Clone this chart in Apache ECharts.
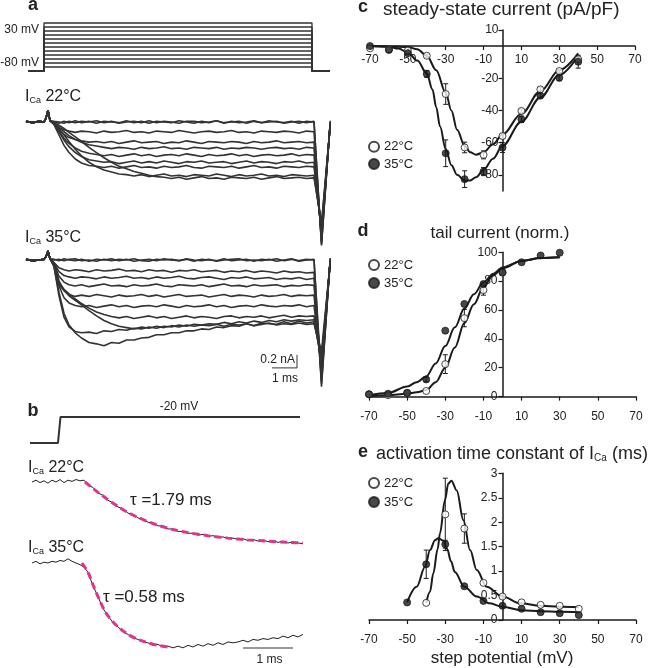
<!DOCTYPE html>
<html><head><meta charset="utf-8">
<script src="https://cdn.jsdelivr.net/npm/echarts@6/dist/echarts.min.js"></script>
<style>html,body{margin:0;padding:0;background:#fff}#chart{width:656px;height:668px}</style>
</head><body><div id="chart"></div>
<script>
// ---------------- Panel a: voltage protocol (mV, ms) ----------------
const stepLevels = [-80,-70,-60,-50,-40,-30,-20,-10,0,10,20,30];
const holdingPotential = -90;
const stepTimes = [-0.64, 0, 10.72, 11.44];

// ---------------- Panel a: current traces (nA vs ms) ----------------
const tA = [-0.72,-0.45,-0.2,0,0.08,0.16,0.24,0.4,0.6,0.8,1.0,1.25,1.5,1.8,2.1,2.4,2.7,3.0,3.3,3.6,3.9,4.2,4.5,4.8,5.1,5.4,5.7,6.0,6.3,6.6,6.9,7.2,7.5,7.8,8.1,8.4,8.7,9.0,9.3,9.6,9.9,10.2,10.5,10.8,11.1,11.45];
const pre22 = [0.01,-0.01,0.01,0.0,0.06,0.18,0.02];
const a22Base1 = [0.0,-0.02,0.01,-0.01,0.02,-0.01,0.01,-0.02,0.01,0.0,-0.01,0.02,-0.01,0.01,-0.02,0.01,0.0,-0.01,0.02,0.0,-0.02,0.01,-0.01,0.02,-0.01,0.0,0.01,-0.02,0.01,-0.01,0.02,0.0,-0.01,0.01,-0.02,0.01,0.0,-1.9,0.0];
const a22Base2 = [0.01,0.0,-0.02,0.01,-0.01,0.01,0.0,0.02,-0.01,0.01,-0.02,0.0,0.01,-0.01,0.02,-0.01,0.01,0.0,-0.02,0.01,0.01,-0.01,0.0,0.02,-0.02,0.01,-0.01,0.0,0.02,-0.01,0.0,0.01,-0.02,0.0,0.01,-0.01,0.01,-1.88,0.02];
const a22L1 = [-0.03,-0.09,-0.12,-0.14,-0.16,-0.14,-0.15,-0.17,-0.14,-0.16,-0.15,-0.13,-0.16,-0.15,-0.17,-0.14,-0.15,-0.16,-0.13,-0.15,-0.17,-0.15,-0.14,-0.16,-0.15,-0.13,-0.16,-0.15,-0.17,-0.14,-0.15,-0.16,-0.14,-0.15,-0.17,-0.14,-0.15,-1.85,-0.01];
const a22L2 = [-0.03,-0.12,-0.19,-0.24,-0.27,-0.29,-0.31,-0.30,-0.32,-0.30,-0.33,-0.31,-0.29,-0.32,-0.31,-0.30,-0.33,-0.31,-0.32,-0.29,-0.31,-0.33,-0.30,-0.31,-0.32,-0.30,-0.31,-0.33,-0.30,-0.32,-0.31,-0.29,-0.32,-0.31,-0.30,-0.32,-0.31,-1.8,-0.02];
const a22L3 = [-0.02,-0.08,-0.15,-0.21,-0.27,-0.31,-0.35,-0.37,-0.39,-0.41,-0.39,-0.40,-0.42,-0.39,-0.41,-0.40,-0.38,-0.41,-0.40,-0.42,-0.39,-0.40,-0.41,-0.39,-0.42,-0.40,-0.41,-0.39,-0.40,-0.42,-0.40,-0.39,-0.41,-0.40,-0.42,-0.39,-0.40,-1.75,-0.02];
const a22L4 = [-0.03,-0.14,-0.25,-0.33,-0.40,-0.45,-0.48,-0.50,-0.52,-0.50,-0.53,-0.51,-0.49,-0.52,-0.50,-0.53,-0.51,-0.50,-0.52,-0.49,-0.51,-0.53,-0.50,-0.52,-0.51,-0.49,-0.52,-0.50,-0.53,-0.51,-0.50,-0.52,-0.51,-0.49,-0.52,-0.50,-0.51,-1.72,-0.03];
const a22L5 = [-0.03,-0.15,-0.28,-0.38,-0.47,-0.53,-0.58,-0.60,-0.62,-0.61,-0.64,-0.62,-0.60,-0.63,-0.61,-0.63,-0.60,-0.62,-0.64,-0.61,-0.62,-0.60,-0.63,-0.62,-0.61,-0.64,-0.62,-0.60,-0.63,-0.61,-0.62,-0.64,-0.61,-0.62,-0.60,-0.63,-0.62,-1.7,-0.03];
const a22L6 = [-0.04,-0.20,-0.36,-0.47,-0.57,-0.63,-0.67,-0.68,-0.70,-0.68,-0.71,-0.69,-0.67,-0.70,-0.69,-0.71,-0.68,-0.70,-0.69,-0.67,-0.70,-0.71,-0.68,-0.69,-0.70,-0.68,-0.71,-0.69,-0.67,-0.70,-0.69,-0.71,-0.68,-0.69,-0.70,-0.68,-0.69,-1.65,-0.04];
const a22L7 = [-0.02,-0.10,-0.20,-0.30,-0.42,-0.52,-0.62,-0.69,-0.74,-0.77,-0.80,-0.81,-0.83,-0.81,-0.84,-0.82,-0.80,-0.83,-0.82,-0.84,-0.81,-0.82,-0.83,-0.80,-0.82,-0.84,-0.81,-0.83,-0.82,-0.80,-0.83,-0.82,-0.84,-0.81,-0.82,-0.83,-0.82,-1.6,-0.04];
const a22L8 = [-0.01,-0.05,-0.10,-0.16,-0.23,-0.30,-0.39,-0.47,-0.55,-0.62,-0.68,-0.72,-0.76,-0.79,-0.82,-0.84,-0.85,-0.87,-0.85,-0.88,-0.86,-0.84,-0.87,-0.86,-0.88,-0.85,-0.86,-0.87,-0.85,-0.88,-0.86,-0.84,-0.87,-0.86,-0.85,-0.87,-0.86,-1.55,-0.05];
const a22Traces = [a22Base1,a22Base2,a22L1,a22L2,a22L3,a22L4,a22L5,a22L6,a22L7,a22L8];

const pre35 = [0.01,-0.01,0.0,0.01,0.05,0.14,0.02];
const a35Base1 = [0.01,-0.01,0.02,0.0,-0.01,0.01,-0.02,0.01,0.0,0.02,-0.01,0.01,-0.02,0.0,0.01,-0.01,0.02,0.0,-0.01,0.01,-0.02,0.01,0.0,-0.01,0.02,-0.01,0.0,0.01,-0.02,0.01,0.0,0.02,-0.01,0.01,-0.02,0.0,0.01,-1.95,0.02];
const a35Base2 = [0.0,0.01,-0.01,0.01,0.02,-0.01,0.0,-0.02,0.01,-0.01,0.01,0.0,0.02,-0.01,-0.02,0.01,0.0,0.01,-0.01,0.02,0.0,-0.01,0.01,-0.02,0.0,0.01,0.02,-0.01,0.0,-0.01,0.01,-0.02,0.0,0.02,-0.01,0.01,0.0,-1.85,0.03];
const a35M1 = [-0.04,-0.12,-0.15,-0.17,-0.15,-0.16,-0.18,-0.15,-0.17,-0.16,-0.14,-0.17,-0.16,-0.18,-0.15,-0.17,-0.16,-0.19,-0.16,-0.17,-0.15,-0.18,-0.17,-0.16,-0.19,-0.17,-0.18,-0.16,-0.19,-0.17,-0.18,-0.20,-0.17,-0.19,-0.18,-0.20,-0.19,-1.9,0.0];
const a35M2 = [-0.05,-0.18,-0.24,-0.26,-0.28,-0.26,-0.27,-0.29,-0.26,-0.28,-0.27,-0.25,-0.28,-0.27,-0.29,-0.26,-0.28,-0.27,-0.25,-0.28,-0.29,-0.27,-0.26,-0.28,-0.30,-0.27,-0.28,-0.26,-0.29,-0.28,-0.27,-0.30,-0.28,-0.29,-0.27,-0.30,-0.28,-1.8,0.01];
const a35M3 = [-0.06,-0.25,-0.34,-0.38,-0.40,-0.38,-0.41,-0.39,-0.37,-0.40,-0.39,-0.41,-0.38,-0.40,-0.39,-0.37,-0.40,-0.41,-0.38,-0.39,-0.40,-0.38,-0.41,-0.39,-0.37,-0.40,-0.39,-0.41,-0.38,-0.40,-0.39,-0.38,-0.41,-0.39,-0.40,-0.38,-0.39,-1.75,0.0];
const a35M4 = [-0.07,-0.32,-0.47,-0.53,-0.56,-0.54,-0.56,-0.53,-0.55,-0.57,-0.54,-0.56,-0.55,-0.53,-0.56,-0.54,-0.57,-0.55,-0.53,-0.56,-0.55,-0.54,-0.57,-0.55,-0.53,-0.56,-0.54,-0.55,-0.57,-0.54,-0.56,-0.55,-0.53,-0.56,-0.54,-0.55,-0.54,-1.7,-0.01];
const a35M5 = [-0.08,-0.40,-0.58,-0.66,-0.70,-0.72,-0.70,-0.73,-0.71,-0.69,-0.72,-0.70,-0.73,-0.71,-0.70,-0.72,-0.69,-0.71,-0.73,-0.70,-0.72,-0.71,-0.69,-0.72,-0.70,-0.73,-0.71,-0.70,-0.72,-0.69,-0.71,-0.72,-0.70,-0.71,-0.69,-0.72,-0.70,-1.65,-0.01];
const a35M6 = [-0.08,-0.35,-0.45,-0.52,-0.60,-0.67,-0.74,-0.80,-0.84,-0.87,-0.89,-0.87,-0.90,-0.88,-0.86,-0.89,-0.87,-0.90,-0.88,-0.86,-0.89,-0.87,-0.88,-0.90,-0.87,-0.86,-0.89,-0.87,-0.88,-0.86,-0.89,-0.87,-0.85,-0.88,-0.86,-0.87,-0.86,-1.6,-0.02];
const a35M7 = [-0.10,-0.50,-0.82,-1.00,-1.12,-1.20,-1.27,-1.29,-1.32,-1.27,-1.28,-1.23,-1.23,-1.20,-1.19,-1.15,-1.15,-1.12,-1.12,-1.09,-1.09,-1.06,-1.07,-1.03,-1.04,-1.01,-1.02,-0.98,-1.01,-0.97,-0.98,-0.99,-0.95,-0.98,-0.94,-0.97,-0.95,-1.5,-0.02];
const a35M8 = [-0.10,-0.55,-0.88,-1.03,-1.10,-1.12,-1.11,-1.13,-1.09,-1.10,-1.07,-1.08,-1.05,-1.06,-1.03,-1.05,-1.02,-1.03,-1.00,-1.02,-0.99,-1.00,-0.98,-0.99,-0.96,-0.98,-0.95,-0.97,-0.94,-0.96,-0.93,-0.95,-0.92,-0.94,-0.92,-0.93,-0.92,-1.55,-0.02];
const a35M9 = [-0.08,-0.38,-0.47,-0.55,-0.62,-0.69,-0.78,-0.86,-0.93,-0.98,-1.02,-1.04,-1.06,-1.03,-1.05,-1.02,-1.04,-1.01,-1.03,-1.00,-1.02,-1.00,-1.01,-0.99,-1.02,-0.99,-1.00,-0.98,-1.01,-0.99,-0.97,-1.00,-0.98,-0.99,-0.97,-0.99,-0.98,-1.4,-0.03];
const a35Traces = [a35Base1,a35Base2,a35M1,a35M2,a35M3,a35M4,a35M5,a35M6,a35M7,a35M8,a35M9];

const scaleBarATime = [9.12, 10.12];       // 1 ms
const scaleBarACurrent = [-1.46, -1.66];   // 0.2 nA

// ---------------- Panel b ----------------
const bStepTimes = [-0.56, 0, 0.05, 4.84];
const bHolding = -90, bStep = -20;
const tB = [-0.52,-0.44,-0.36,-0.28,-0.2,-0.12,-0.04,0.04,0.12,0.2,0.28,0.36,0.44,0.52,0.6,0.7,0.8,0.9,1.0,1.1,1.2,1.3,1.4,1.5,1.6,1.7,1.8,1.9,2.0,2.1,2.2,2.3,2.4,2.5,2.6,2.7,2.8,2.9,3.0,3.1,3.2,3.3,3.4,3.5,3.6,3.7,3.8,3.9,4.0,4.1,4.2,4.3,4.4,4.5,4.6,4.7,4.8,4.9];
const b22Pre = [0.0,0.03,-0.01,0.02,-0.02,0.03,0.0,0.04,-0.01,0.03,0.01,0.04,0.02,0.03];
const b22Decay = [-0.05,-0.09,-0.18,-0.22,-0.30,-0.34,-0.41,-0.44,-0.51,-0.53,-0.59,-0.61,-0.66,-0.67,-0.72,-0.72,-0.77,-0.77,-0.81,-0.81,-0.84,-0.84,-0.87,-0.86,-0.89,-0.88,-0.91,-0.90,-0.93,-0.92,-0.94,-0.93,-0.96,-0.94,-0.97,-0.95,-0.98,-0.96,-0.99,-0.97,-1.0,-0.98,-1.0,-1.01];
const b35Pre = [0.0,0.02,-0.01,0.01,0.0,0.02,0.01,0.03,0.02,0.05,0.02,0.0,-0.02,-0.05];
const b35Decay = [-0.11,-0.27,-0.40,-0.54,-0.63,-0.71,-0.76,-0.82,-0.85,-0.89,-0.91,-0.94,-0.95,-0.98,-0.97,-1.0,-0.99,-1.01,-0.99,-1.01,-0.98,-1.0,-0.97,-0.99,-0.96,-0.98,-0.95,-0.97,-0.94,-0.95,-0.94,-0.92,-0.94,-0.91,-0.92,-0.90,-0.91,-0.89,-0.90,-0.87,-0.89,-0.86,-0.88,-0.85];
const b22FitT = [0.54,0.8,1.0,1.2,1.4,1.6,1.8,2.0,2.3,2.6,3.0,3.4,3.8,4.2,4.6,4.9];
const b22Fit  = [0,-0.17,-0.29,-0.40,-0.50,-0.58,-0.65,-0.71,-0.78,-0.83,-0.88,-0.92,-0.95,-0.97,-0.99,-1.0];
const b35FitT = [0.48,0.6,0.7,0.8,0.9,1.0,1.2,1.4,1.6,1.8,2.0,2.2];
const b35Fit  = [0,-0.11,-0.26,-0.40,-0.53,-0.63,-0.76,-0.85,-0.91,-0.95,-0.98,-1.0];
const scaleBarBTime = [3.7, 4.7];
const scaleBarBLevel = -1.012;

// ---------------- Panels c, d, e ----------------
const xTickLabels = [-70,-50,-30,-10,10,30,50,70];
const cYLabels = [10,-20,-40,-60,-80];

const cV = [-70,-60,-50,-40,-30,-20,-10,0,10,20,30,40];
const c22 = [-1.4,-2.0,-2.8,-6.0,-29.8,-63.0,-67.6,-55.9,-40.3,-26.9,-15.5,-8.2];
const c22Err = [0,0,0,1,6.4,3.3,2.5,1.5,1.2,1,1,1];
const c35 = [0,-2.4,-4.4,-17.3,-66.6,-82.7,-78.0,-63.1,-45.5,-30.8,-19.6,-9.7];
const c35Err = [0,0,0,2.2,8.3,5.2,2.5,3,2,1.5,2,4];
const c22FitV = [-70,-60,-50,-45,-40,-35,-30,-27,-24,-20,-17,-14,-10,-5,0,10,20,30,40];
const c22Fit  = [0,-0.2,-0.6,-2,-6,-15,-29,-40,-52,-62,-66,-67.5,-66,-61,-55,-42,-28,-15,-4.5];
const c35FitV = [-70,-60,-55,-50,-45,-40,-37,-35,-33,-30,-27,-24,-20,-17,-14,-10,-5,0,10,20,30,40];
const c35Fit  = [0,-0.5,-1.5,-4,-9,-17,-27,-38,-50,-64,-74,-80,-83.5,-83.5,-81.5,-77,-70,-62,-47,-32,-18,-6];

const dV22 = [-70,-60,-50,-40,-30,-20,-10,0];
const d22 = [1.6,1.0,2.4,3.9,22.5,54.4,73.8,85.9];
const d22Err = [0,0,0,0,6.5,6,3.5,2];
const dV35 = [-70,-60,-50,-40,-30,-20,-10,0,10,20,30];
const d35 = [1.6,2.0,2.6,11.9,45.7,64.2,78.0,86.2,93.1,97.8,99.7];
const d35Err = [0,0,0,1.5,0,0,0,0,0,0,0];
const dFitV = [-70,-60,-50,-45,-40,-35,-30,-25,-20,-15,-10,-5,0,10,20,30];
const d22Fit = [0.5,1,2,3,4.5,10,20,34,51,64,76,84,89,94,96,96.5];
const d35Fit = [1,2.5,7,10,14,23,35,48,61,71,79,85,89.5,94,96,96.5];

const eV22 = [-40,-30,-20,-10,0,10,20,30,40];
const e22 = [0.35,2.16,1.87,0.76,0.48,0.36,0.31,0.29,0.23];
const e22Err = [0,0.74,0.3,0,0,0,0,0,0];
const eV35 = [-50,-40,-30,-20,-10,0,10,20,30,40];
const e35 = [0.36,1.14,1.55,0.69,0.39,0.29,0.23,0.16,0.14,0.10];
const e35Err = [0,0.29,0.08,0,0,0,0,0,0,0];
const e22FitV = [-40,-38,-36.3,-34,-32.8,-30.2,-28.4,-26.8,-24,-20.5,-17,-13.5,-8.3,0,9.2,20,30,40];
const e22Fit  = [0.35,0.58,0.95,1.45,1.77,2.45,2.79,2.85,2.65,2.04,1.43,1.02,0.68,0.48,0.34,0.29,0.27,0.26];
const e35FitV = [-50,-45,-40.6,-38,-35.4,-33.7,-31,-29,-27,-25,-20,-13.5,-6.6,0,10,20,30,40];
const e35Fit  = [0.36,0.68,1.09,1.43,1.63,1.67,1.62,1.45,1.2,0.98,0.68,0.48,0.34,0.27,0.2,0.18,0.17,0.16];

// ---------------- build ----------------
const FONT = '"Liberation Sans", Arial, sans-serif';
const INK = '#1a1a1a';
const TXT = '#222';
const zip = (xs, ys) => xs.map((x, i) => [x, ys[i]]);

const gridBoxes = [
  {left:19, top:21, width:312.5, height:52},        // 0 a voltage
  {left:19, top:102.5, width:312.5, height:152.75}, // 1 a 22
  {left:19, top:240.5, width:312.5, height:152.75}, // 2 a 35
  {left:28, top:415.1, width:280, height:29.7},     // 3 b voltage
  {left:28, top:472.85, width:280, height:76.25},   // 4 b 22
  {left:28, top:550.4, width:280, height:105},      // 5 b 35
  {left:370, top:30, width:265, height:160.9},      // 6 c
  {left:369, top:252.3, width:267, height:144.3},   // 7 d
  {left:369, top:473.3, width:267, height:146.7}    // 8 e
];
const grids = gridBoxes.map(g => Object.assign({outerBoundsMode:'none', containLabel:false}, g));

const hiddenX = (i, min, max) => ({type:'value', gridIndex:i, min, max, show:false});
const hiddenY = (i, min, max) => ({type:'value', gridIndex:i, min, max, show:false});

const axisLineStyle = {show:true, onZero:false, lineStyle:{color:INK, width:1.5}};
const lbl = (margin) => ({fontSize:12, fontFamily:FONT, color:TXT, margin});
// x axes sit at y = 0; y axes at x = 0 (offset from the grid edge, computed from each axis range)
const visX = (i, margin, yMin, yMax) => {
  const g = gridBoxes[i];
  const zeroFromBottom = g.height * (0 - yMin) / (yMax - yMin);
  return {
    type:'value', gridIndex:i, min:-70, max:70, interval:10, position:'bottom', offset:-zeroFromBottom,
    axisLine:axisLineStyle,
    axisTick:{show:true, customValues:xTickLabels, length:4, lineStyle:{color:INK, width:1.2}},
    axisLabel:Object.assign({customValues:xTickLabels}, lbl(margin)),
    splitLine:{show:false}
  };
};
const yOffset = (i) => -gridBoxes[i].width * (0 - -70) / 140;

const xAxes = [
  hiddenX(0,-1,11.5), hiddenX(1,-1,11.5), hiddenX(2,-1,11.5),
  hiddenX(3,-0.6,5.0), hiddenX(4,-0.6,5.0), hiddenX(5,-0.6,5.0),
  visX(6,8,-90,10), visX(7,14,0,100), visX(8,14,0,3)
];
const yAxes = [
  hiddenY(0,-95,35), hiddenY(1,-2.05,0.3), hiddenY(2,-2.05,0.3),
  hiddenY(3,-95,-15), hiddenY(4,-1.1,0.15), hiddenY(5,-1.1,0.15),
  {type:'value', gridIndex:6, min:-90, max:10, interval:10, position:'left', offset:yOffset(6), axisLine:axisLineStyle,
   axisTick:{show:true, customValues:cYLabels, length:4, lineStyle:{color:INK,width:1.2}},
   axisLabel:Object.assign({customValues:cYLabels}, lbl(4)), splitLine:{show:false}},
  {type:'value', gridIndex:7, min:0, max:100, interval:20, position:'left', offset:yOffset(7), axisLine:axisLineStyle,
   axisTick:{show:true, length:4, lineStyle:{color:INK,width:1.2}},
   axisLabel:lbl(5), splitLine:{show:false}},
  {type:'value', gridIndex:8, min:0, max:3, interval:0.5, position:'left', offset:yOffset(8), axisLine:axisLineStyle,
   axisTick:{show:true, length:4, lineStyle:{color:INK,width:1.2}},
   axisLabel:lbl(5), splitLine:{show:false}}
];

const series = [];
const traceLine = (idx, data, color, width, extra) => Object.assign({
  type:'line', xAxisIndex:idx, yAxisIndex:idx, data, showSymbol:false, symbol:'none',
  lineStyle:{color, width}, silent:true, animation:false, z:2
}, extra || {});

stepLevels.forEach(v => {
  series.push(traceLine(0, [[stepTimes[0],holdingPotential],[stepTimes[1],holdingPotential],[stepTimes[1],v],[stepTimes[2],v],[stepTimes[2],holdingPotential],[stepTimes[3],holdingPotential]], '#333', 1.3));
});
a22Traces.forEach(tr => series.push(traceLine(1, zip(tA, pre22.concat(tr)), '#333', 1.6)));
a35Traces.forEach(tr => series.push(traceLine(2, zip(tA, pre35.concat(tr)), '#333', 1.6)));
series.push(traceLine(2, [[scaleBarATime[1],scaleBarACurrent[0]],[scaleBarATime[1],scaleBarACurrent[1]],[scaleBarATime[0],scaleBarACurrent[1]]], '#333', 1));

series.push(traceLine(3, [[bStepTimes[0],bHolding],[bStepTimes[1],bHolding],[bStepTimes[2],bStep],[bStepTimes[3],bStep]], '#333', 2));
series.push(traceLine(4, zip(tB, b22Pre.concat(b22Decay)), '#222', 1));
series.push(traceLine(5, zip(tB, b35Pre.concat(b35Decay)), '#222', 1));
series.push(traceLine(4, zip(b22FitT, b22Fit), '#e0358f', 3, {smooth:0.3, lineStyle:{color:'#e0358f', width:3, type:[7,4]}, z:3}));
series.push(traceLine(5, zip(b35FitT, b35Fit), '#e0358f', 3, {smooth:0.3, lineStyle:{color:'#e0358f', width:3, type:[7,4]}, z:3}));
series.push(traceLine(5, [[scaleBarBTime[0],scaleBarBLevel],[scaleBarBTime[1],scaleBarBLevel]], '#999', 2));

const fit = (idx, xs, ys) => ({type:'line', xAxisIndex:idx, yAxisIndex:idx, data:zip(xs, ys), showSymbol:false, symbol:'none',
  smooth:0.35, smoothMonotone:'x', lineStyle:{color:INK, width:2}, silent:true, animation:false, z:2});
const errBars = (idx, xs, ys, es) => ({
  type:'custom', xAxisIndex:idx, yAxisIndex:idx, silent:true, animation:false, z:3,
  data: xs.map((x, i) => [x, ys[i]-es[i], ys[i]+es[i]]).filter(d => d[2] - d[1] > 0),
  encode:{x:0, y:[1,2]},
  renderItem:(params, api) => {
    const x = api.value(0);
    const p1 = api.coord([x, api.value(2)]), p2 = api.coord([x, api.value(1)]);
    const w = 2.5, st = {stroke:INK, lineWidth:1};
    return {type:'group', children:[
      {type:'line', shape:{x1:p1[0],y1:p1[1],x2:p2[0],y2:p2[1]}, style:st},
      {type:'line', shape:{x1:p1[0]-w,y1:p1[1],x2:p1[0]+w,y2:p1[1]}, style:st},
      {type:'line', shape:{x1:p2[0]-w,y1:p2[1],x2:p2[0]+w,y2:p2[1]}, style:st}
    ]};
  }
});
const pts = (idx, name, xs, ys, filled) => ({
  type:'scatter', name, xAxisIndex:idx, yAxisIndex:idx, data:zip(xs, ys), symbol:'circle', symbolSize:7,
  itemStyle: filled ? {color:INK, borderColor:INK, borderWidth:1} : {color:'#fff', borderColor:INK, borderWidth:1},
  silent:true, animation:false, z:5
});

series.push(fit(6, c22FitV, c22Fit), fit(6, c35FitV, c35Fit));
series.push(errBars(6, cV, c22, c22Err), errBars(6, cV, c35, c35Err));
series.push(pts(6, '22°C', cV, c22, false), pts(6, '35°C', cV, c35, true));

series.push(fit(7, dFitV, d22Fit), fit(7, dFitV, d35Fit));
series.push(errBars(7, dV22, d22, d22Err), errBars(7, dV35, d35, d35Err));
series.push(pts(7, '22°C', dV22, d22, false), pts(7, '35°C', dV35, d35, true));

series.push(fit(8, e22FitV, e22Fit), fit(8, e35FitV, e35Fit));
series.push(errBars(8, eV22, e22, e22Err), errBars(8, eV35, e35, e35Err));
series.push(pts(8, '22°C', eV22, e22, false), pts(8, '35°C', eV35, e35, true));

const legendAt = (top, gap) => ({
  data:['22°C','35°C'], left:368, top, orient:'vertical', icon:'circle', itemWidth:10, itemHeight:10, itemGap:gap,
  selectedMode:false, padding:0, textStyle:{fontSize:13, fontFamily:FONT, color:TXT, lineHeight:13}
});

const ICa = (label) => '{i|I}{s|Ca}{n| ' + label + '}';
const richICa = {i:{fontSize:16, fontFamily:FONT, fill:TXT}, s:{fontSize:9, fontFamily:FONT, fill:TXT, verticalAlign:'bottom', lineHeight:14}, n:{fontSize:16, fontFamily:FONT, fill:TXT}};
const T = (text, x, y, size, opts) => {
  opts = opts || {};
  return {type:'text', x, y, z:100, silent:true, style:Object.assign({
    text, font:(opts.bold ? 'bold ' : '') + size + 'px ' + FONT, fill: opts.fill || TXT,
    align: opts.align || 'left', verticalAlign:'middle'
  }, opts.rich ? {rich:opts.rich} : {})};
};

const graphics = [
  T('a', 33, 5, 18, {bold:true, align:'center'}),
  T('30 mV', 39, 30, 12, {align:'right'}),
  T('-80 mV', 39, 63, 12, {align:'right'}),
  T(ICa('22°C'), 25, 97, 16, {rich:richICa}),
  T(ICa('35°C'), 25, 238, 16, {rich:richICa}),
  T('0.2 nA', 295, 360, 12, {align:'right'}),
  T('1 ms', 285, 379, 12, {align:'center'}),
  T('b', 33, 411, 18, {bold:true, align:'center'}),
  T('-20 mV', 179, 407, 12, {align:'center'}),
  T(ICa('22°C'), 28, 468, 16, {rich:richICa}),
  T(ICa('35°C'), 28, 548, 16, {rich:richICa}),
  T('τ =1.79 ms', 130, 500, 17),
  T('τ =0.58 ms', 103, 597, 17),
  T('1 ms', 269.5, 660, 12, {align:'center'}),
  T('c', 363, 7, 18, {bold:true, align:'center'}),
  T('steady-state current (pA/pF)', 383, 10, 19),
  T('d', 363, 231, 18, {bold:true, align:'center'}),
  T('tail current (norm.)', 500, 233, 17, {align:'center'}),
  T('e', 363, 452, 18, {bold:true, align:'center'}),
  T('{n|activation time constant of I}{s|Ca}{n| (ms)}', 376, 454, 18, {rich:{
    n:{fontSize:18, fontFamily:FONT, fill:TXT}, s:{fontSize:10, fontFamily:FONT, fill:TXT, verticalAlign:'bottom', lineHeight:15}}}),
  T('step potential (mV)', 502, 658, 17, {align:'center'})
];

const chart = echarts.init(document.getElementById('chart'), null, {renderer:'canvas'});
chart.setOption({
  animation:false,
  backgroundColor:'#fff',
  textStyle:{fontFamily:FONT},
  grid:grids, xAxis:xAxes, yAxis:yAxes,
  legend:[legendAt(140.2, 4.3), legendAt(258.5, 5), legendAt(476.5, 6)],
  series, graphic:{elements:graphics}
});
</script></body></html>
